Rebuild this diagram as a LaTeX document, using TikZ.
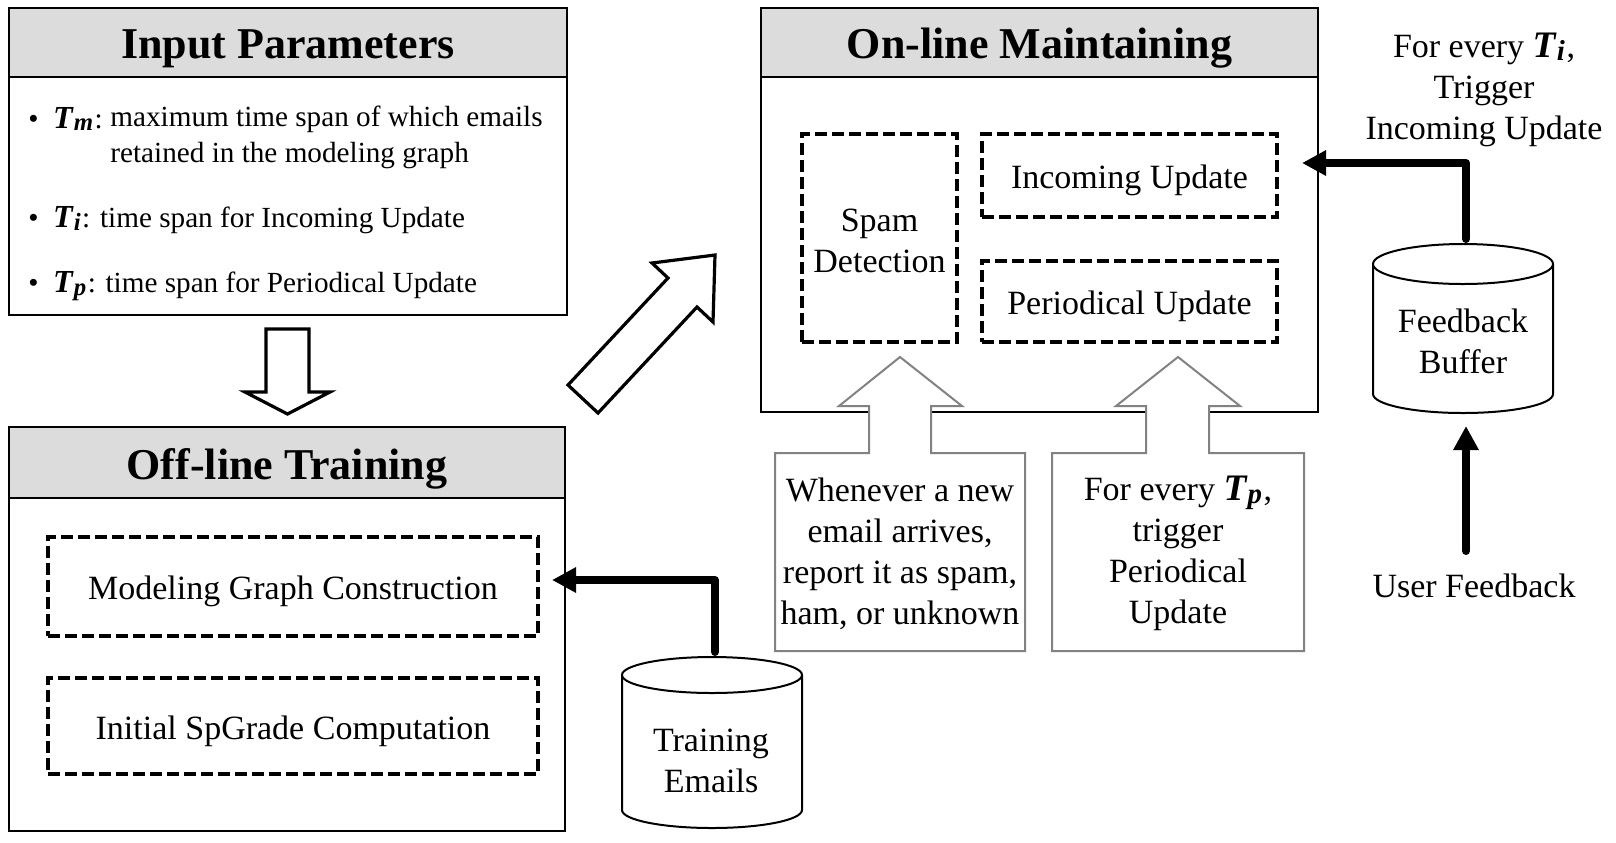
\documentclass[tikz,border=0pt]{standalone}
\usepackage{fontspec}
\setmainfont{Liberation Serif}
\usepackage{graphicx}
\usetikzlibrary{arrows.meta,fit,calc}
\definecolor{headgray}{RGB}{220,220,220}
\definecolor{arrgray}{RGB}{130,130,130}
\newcommand{\Tsub}[1]{\scalebox{1.1}{\textbf{\textit{T}}}\raisebox{-0.1em}{\scalebox{0.85}{\textbf{\textit{#1}}}}\hspace{0.05em}}
\begin{document}
\begin{tikzpicture}[x=0.5pt,y=-0.5pt,
  box/.style={draw,line width=1pt,inner sep=0pt},
  headbox/.style={draw,line width=1pt,fill=headgray,inner sep=0pt},
  headtxt/.style={font=\fontsize{22}{26}\selectfont\bfseries,inner sep=0pt,yshift=-3pt},
  dbox/.style={draw,line width=1.6pt,dash pattern=on 6pt off 2.5pt,inner sep=0pt},
  txt/.style={font=\fontsize{17}{20.5}\selectfont,align=center,inner sep=0pt},
  dtxt/.style={txt,yshift=-2.5pt},
  bul/.style={font=\fontsize{14.6}{18}\selectfont,anchor=west,inner sep=0pt,yshift=-1.5pt},
  hollow/.style={draw,line width=1.6pt,fill=white,line join=miter},
  greyshape/.style={draw=arrgray,line width=1pt,fill=white},
  cyl/.style={draw,line width=1pt,fill=white},
  conn/.style={line width=4pt,line cap=round,line join=round,-{Triangle[length=12pt,width=12pt]}},
]
\useasboundingbox (0,0) rectangle (1616,842);

% Input Parameters
\node[box,fit={(9,8)(567,315)}] (inp) {};
\node[headbox,fit={(9,8)(567,77)}] (inph) {};
\node[headtxt] (inpt) at (inph.center) {Input Parameters};
\node[bul] (b1) at (28,116) {\textbullet\hspace{0.5em}\Tsub{m}:};
\node[bul] (b1t) at (110,116) {maximum time span of which emails};
\node[bul] (b1u) at (110,153) {retained in the modeling graph};
\node[bul] (b2) at (28,217) {\textbullet\hspace{0.5em}\Tsub{i}: time span for Incoming Update};
\node[bul] (b3) at (28,283) {\textbullet\hspace{0.5em}\Tsub{p}: time span for Periodical Update};

% Off-line Training
\node[box,fit={(9,427)(565,831)}] (off) {};
\node[headbox,fit={(9,427)(565,498)}] (offh) {};
\node[headtxt] (offt) at (offh.center) {Off-line Training};
\node[dbox,fit={(48,537)(538,636)}] (mgc) {};
\node[dtxt] (mgct) at (mgc.center) {Modeling Graph Construction};
\node[dbox,fit={(48,678)(538,774)}] (isc) {};
\node[dtxt] (isct) at (isc.center) {Initial SpGrade Computation};

% On-line Maintaining
\node[box,fit={(761,8)(1318,412)}] (on) {};
\node[headbox,fit={(761,8)(1318,77)}] (onh) {};
\node[headtxt] (ont) at (onh.center) {On-line Maintaining};
\node[dbox,fit={(802,134)(957,342)}] (spam) {};
\node[txt,yshift=-1.5pt] (spamt) at (spam.center) {Spam\\Detection};
\node[dbox,fit={(982,134)(1277,217)}] (incu) {};
\node[dtxt] (incut) at (incu.center) {Incoming Update};
\node[dbox,fit={(982,261)(1277,342)}] (peru) {};
\node[dtxt] (perut) at (peru.center) {Periodical Update};

% grey trigger boxes with hollow arrows
\draw[greyshape] (775,651) -- (775,453) -- (869,453) -- (869,406) -- (839,406) -- (900,357) -- (962,406) -- (931,406) -- (931,453) -- (1025,453) -- (1025,651) -- cycle;
\node[txt] (whenever) at (900,554) {Whenever a new\\email arrives,\\report it as spam,\\ham, or unknown};
\draw[greyshape] (1052,651) -- (1052,453) -- (1146,453) -- (1146,406) -- (1116,406) -- (1178,357) -- (1240,406) -- (1209,406) -- (1209,453) -- (1304,453) -- (1304,651) -- cycle;
\node[txt] (fortp) at (1178,553) {For every \Tsub{p},\\trigger\\Periodical\\Update};

% hollow black arrows
\draw[hollow] (266,329) -- (309,329) -- (309,392) -- (330,392) -- (287.5,414) -- (245,392) -- (266,392) -- cycle;
\draw[hollow] (568,385) -- (668,278) -- (652,263) -- (715,255) -- (713,322) -- (697,307) -- (598,413) -- cycle;

% Feedback Buffer cylinder
\draw[cyl] (1373,264) -- (1373,394) arc[start angle=180,end angle=0,x radius=90,y radius=19] -- (1553,264);
\draw[cyl] (1463,264) ellipse[x radius=90,y radius=20];
\node[txt] (fb) at (1463,341) {Feedback\\Buffer};
\node[txt] (fbt) at (1484,90) {For every \Tsub{i},\\Trigger\\Incoming Update};
\node[txt] (uf) at (1474,586) {User Feedback};

% Training Emails cylinder
\draw[cyl] (622,675) -- (622,810) arc[start angle=180,end angle=0,x radius=90,y radius=18] -- (802,675);
\draw[cyl] (712,675) ellipse[x radius=90,y radius=18];
\node[txt] (te) at (711,761) {Training\\Emails};

% connectors
\coordinate (fbtop) at (1466,239);
\coordinate (incin) at (1302,163);
\draw[conn] (fbtop) |- (incin);
\coordinate (tetop) at (715,652);
\coordinate (mgin) at (552,580);
\draw[conn] (tetop) |- (mgin);
\coordinate (ufs) at (1466,551);
\coordinate (fbbot) at (1466,426);
\draw[conn] (ufs) -- (fbbot);
\end{tikzpicture}
\end{document}
